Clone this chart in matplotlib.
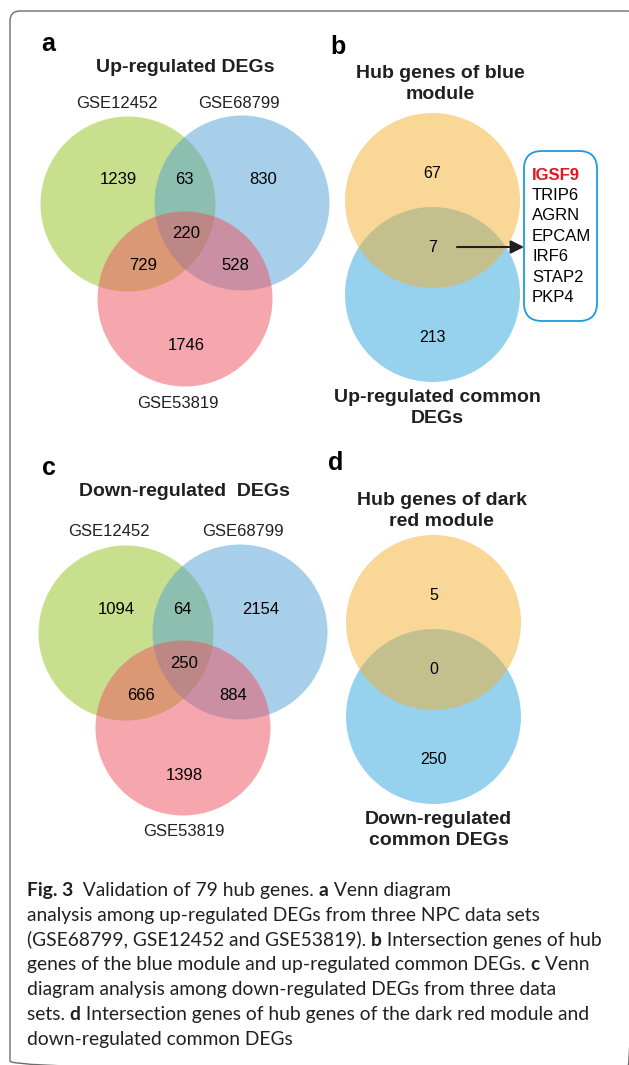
import matplotlib
matplotlib.use("Agg")
import matplotlib.pyplot as plt
from matplotlib.patches import Circle, FancyBboxPatch

plt.rcParams['font.family'] = ['Liberation Sans', 'DejaVu Sans']

# panel a / c: three-way overlaps, region order:
# only12452, 12452&68799, only68799, 12452&53819, all, 68799&53819, only53819
set_names = ["GSE12452", "GSE68799", "GSE53819"]
up_counts = [1239, 63, 830, 729, 220, 528, 1746]
down_counts = [1094, 64, 2154, 666, 250, 884, 1398]

# panel b / d: hub genes only, shared, DEGs only
blue_hub_counts = [67, 7, 213]
darkred_hub_counts = [5, 0, 250]
shared_genes = ["IGSF9", "TRIP6", "AGRN", "EPCAM", "IRF6", "STAP2", "PKP4"]

caption = [
    [("Fig. 3", True), ("  Validation of 79 hub genes. ", False), ("a", True), (" Venn diagram", False)],
    [("analysis among up-regulated DEGs from three NPC data sets", False)],
    [("(GSE68799, GSE12452 and GSE53819). ", False), ("b", True), (" Intersection genes of hub", False)],
    [("genes of the blue module and up-regulated common DEGs. ", False), ("c", True), (" Venn", False)],
    [("diagram analysis among down-regulated DEGs from three data", False)],
    [("sets. ", False), ("d", True), (" Intersection genes of hub genes of the dark red module and", False)],
    [("down-regulated common DEGs", False)],
]

green, blue3, red = "#93c31c", "#53a0d6", "#ed515d"
orange, blue2 = "#f3b131", "#2fa5dd"
ink = "#231f20"

fig = plt.figure(figsize=(6.29, 10.65), dpi=100)
ax = fig.add_axes([0, 0, 1, 1])
ax.set_xlim(0, 629)
ax.set_ylim(1065, 0)
ax.axis("off")

# outer frame, right and bottom sides run off the page
ax.add_patch(FancyBboxPatch((10, 11), 627, 1060, boxstyle="round,pad=0,rounding_size=10",
                            fc="none", ec="#6d6d6d", lw=1.0, clip_on=True))


def venn3(cx, cy, counts, title, tx, ty, label_pos):
    r = 87.5
    centres = [(cx - 57, cy), (cx + 57, cy - 1), (cx, cy + 95)]
    for (x, y), c in zip(centres, [green, blue3, red]):
        ax.add_patch(Circle((x, y), r, fc=c, ec="none", alpha=0.5))
    offs = [(-67, -24), (-1, -24), (78, -24), (-42, 62), (1, 30), (50, 62), (1, 142)]
    for (dx, dy), n in zip(offs, counts):
        ax.text(cx + dx, cy + dy, str(n), ha="center", va="center", fontsize=12, color="black")
    ax.text(tx, ty, title, ha="center", va="center", fontsize=14, fontweight="bold", color=ink)
    for (x, y), name in zip(label_pos, set_names):
        ax.text(x, y, name, ha="center", va="center", fontsize=12, color=ink)


def venn2(cx, cy, counts, top, bottom, top_y, bottom_y):
    r = 87.5
    ax.add_patch(Circle((cx, cy + 94), r, fc=blue2, ec="none", alpha=0.5))
    ax.add_patch(Circle((cx, cy), r, fc=orange, ec="none", alpha=0.5))
    for dy, n in zip([-27, 47, 137], counts):
        ax.text(cx, cy + dy, str(n), ha="center", va="center", fontsize=11.5, color="black")
    ax.text(cx + 8, top_y, top, ha="center", va="center", fontsize=14, fontweight="bold",
            color=ink, linespacing=1.3)
    ax.text(cx + 5, bottom_y, bottom, ha="center", va="center", fontsize=14, fontweight="bold",
            color=ink, linespacing=1.3)


# a
ax.text(48, 44, "a", ha="center", va="center", fontsize=18, fontweight="bold", color="black")
venn3(185, 204, up_counts, "Up-regulated DEGs", 185, 68,
      [(117, 104), (239, 104), (178, 404)])

# b
ax.text(338, 47, "b", ha="center", va="center", fontsize=18, fontweight="bold", color="black")
venn2(432.5, 200.5, blue_hub_counts, "Hub genes of blue\nmodule", "Up-regulated common\nDEGs", 84, 408)
ax.annotate("", xy=(524, 247), xytext=(457, 247),
            arrowprops=dict(arrowstyle="-|>", color=ink, lw=1.5, mutation_scale=20, shrinkA=0, shrinkB=0))
ax.add_patch(FancyBboxPatch((524, 151), 73, 170, boxstyle="round,pad=0,rounding_size=18",
                            fc="white", ec="#1d9be0", lw=1.3))
for i, g in enumerate(shared_genes):
    ax.text(532, 175 + 20.4 * i, g, ha="left", va="center", fontsize=12,
            fontweight="bold" if i == 0 else "normal",
            color="#e5161d" if i == 0 else "black")

# c
ax.text(49, 468, "c", ha="center", va="center", fontsize=18, fontweight="bold", color="black")
venn3(183, 633, down_counts, "Down-regulated  DEGs", 184, 492,
      [(109, 532), (243, 532), (184, 832)])

# d
ax.text(336, 463, "d", ha="center", va="center", fontsize=18, fontweight="bold", color="black")
venn2(433.5, 622.5, darkred_hub_counts, "Hub genes of dark\nred module", "Down-regulated\ncommon DEGs", 511, 830)

# caption with bold run-ins
fig.canvas.draw()
renderer = fig.canvas.get_renderer()
for i, line in enumerate(caption):
    x = 27
    y = 896 + 24.8 * i
    for txt, bold in line:
        t = ax.text(x, y, txt, ha="left", va="baseline", fontsize=13.9,
                    family=["Lato", "DejaVu Sans"],
                    fontweight="bold" if bold else "normal", color="#231f20")
        x += t.get_window_extent(renderer).width

fig.savefig("out.png", dpi=100)
